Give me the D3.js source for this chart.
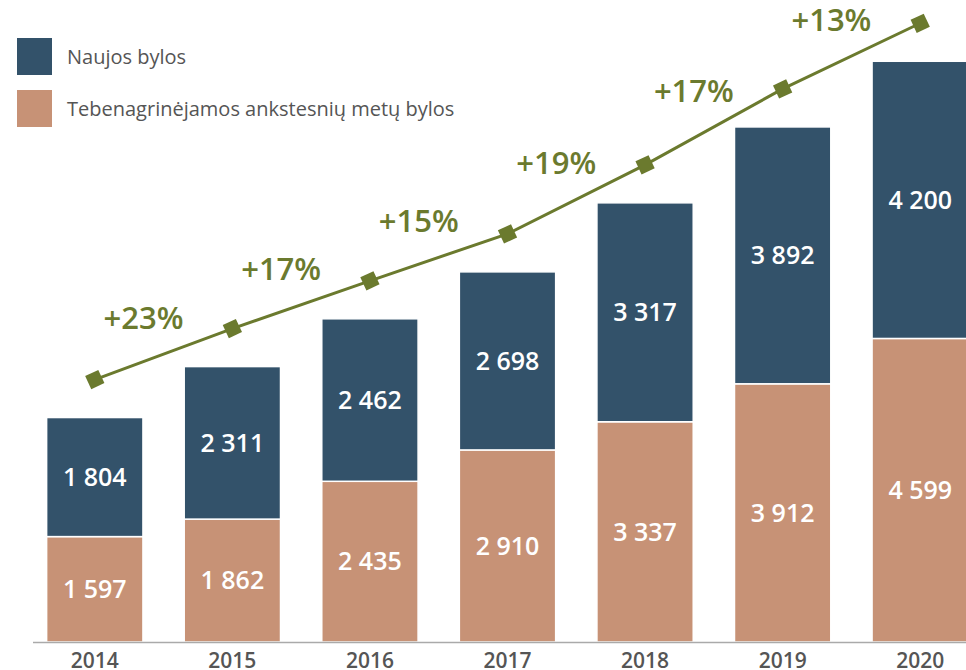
<!DOCTYPE html>
<html>
<head>
<meta charset="utf-8">
<script src="https://cdn.jsdelivr.net/npm/d3@7"></script>
<style>
  body { margin: 0; background: #fff; }
  svg { display: block; font-family: "Open Sans", sans-serif; }
</style>
</head>
<body>
<svg></svg>
<script>
const width = 966;
const height = 670;

// DATA
const years = ['2014', '2015', '2016', '2017', '2018', '2019', '2020'];
const oldCases = [1597, 1862, 2435, 2910, 3337, 3912, 4599];
const newCases = [1804, 2311, 2462, 2698, 3317, 3892, 4200];
const growthLabels = ['+23%', '+17%', '+15%', '+19%', '+17%', '+13%'];
const seriesNames = ['Naujos bylos', 'Tebenagrinėjamos ankstesnių metų bylos'];
const colors = ['#33526a', '#c79276'];
const lineColor = '#6b7a2e';

const fmt = v => d3.format(',')(v).replace(/,/g, ' ');

const svg = d3.select('svg')
  .attr('width', width)
  .attr('height', height);

// SCALES
const x = d3.scaleBand()
  .domain(years)
  .range([26, 989])
  .paddingInner(0.3)
  .paddingOuter(0.15);

const y = d3.scaleLinear()
  .domain([0, 9000])
  .range([642, 48]);

const totals = years.map((d, i) => oldCases[i] + newCases[i]);
const lineOffset = 38;

// BARS
const rows = years.map((year, i) => ({ year, old: oldCases[i], new: newCases[i] }));
const stack = d3.stack().keys(['old', 'new'])(rows);

const layers = svg.append('g')
  .selectAll('g')
  .data(stack)
  .enter().append('g')
  .attr('fill', (d, i) => i === 0 ? colors[1] : colors[0]);

layers.selectAll('rect')
  .data(d => d)
  .enter().append('rect')
  .attr('x', d => x(d.data.year))
  .attr('width', x.bandwidth())
  .attr('y', d => y(d[1]))
  .attr('height', d => y(d[0]) - y(d[1]))
  .attr('stroke', '#fff')
  .attr('stroke-width', 1.5);

layers.selectAll('text')
  .data(d => d)
  .enter().append('text')
  .attr('x', d => x(d.data.year) + x.bandwidth() / 2)
  .attr('y', d => (y(d[0]) + y(d[1])) / 2)
  .attr('dy', '0.35em')
  .attr('text-anchor', 'middle')
  .attr('fill', '#fff')
  .attr('font-size', 25)
  .attr('font-weight', 600)
  .text(d => fmt(d[1] - d[0]));

// AXIS
svg.append('line')
  .attr('x1', 33)
  .attr('x2', width)
  .attr('y1', y(0) + 0.5)
  .attr('y2', y(0) + 0.5)
  .attr('stroke', '#aaa')
  .attr('stroke-width', 1.5);

svg.append('g')
  .selectAll('text')
  .data(years)
  .enter().append('text')
  .attr('x', d => x(d) + x.bandwidth() / 2)
  .attr('y', 668)
  .attr('text-anchor', 'middle')
  .attr('fill', '#555')
  .attr('font-size', 21)
  .attr('font-weight', 600)
  .text(d => d);

// GROWTH LINE
const pts = years.map((d, i) => [x(d) + x.bandwidth() / 2, y(totals[i]) - lineOffset]);

svg.append('path')
  .attr('d', d3.line()(pts))
  .attr('fill', 'none')
  .attr('stroke', lineColor)
  .attr('stroke-width', 3);

svg.append('g')
  .selectAll('path')
  .data(pts)
  .enter().append('path')
  .attr('d', d3.symbol().type(d3.symbolSquare).size(210))
  .attr('transform', p => `translate(${p[0]},${p[1]}) rotate(-25)`)
  .attr('fill', lineColor);

svg.append('g')
  .selectAll('text')
  .data(growthLabels)
  .enter().append('text')
  .attr('x', (d, i) => (pts[i][0] + pts[i + 1][0]) / 2 - 20)
  .attr('y', (d, i) => (pts[i][1] + pts[i + 1][1]) / 2 - 25)
  .attr('text-anchor', 'middle')
  .attr('fill', lineColor)
  .attr('font-size', 31)
  .attr('font-weight', 600)
  .text(d => d);

// LEGEND
const legend = svg.append('g')
  .selectAll('g')
  .data(seriesNames)
  .enter().append('g')
  .attr('transform', (d, i) => `translate(17,${38 + i * 52})`);

legend.append('rect')
  .attr('width', 35)
  .attr('height', 37)
  .attr('fill', (d, i) => colors[i]);

legend.append('text')
  .attr('x', 50)
  .attr('y', 18.5)
  .attr('dy', '0.35em')
  .attr('fill', '#555')
  .attr('font-size', 20)
  .text(d => d);
</script>
</body>
</html>
